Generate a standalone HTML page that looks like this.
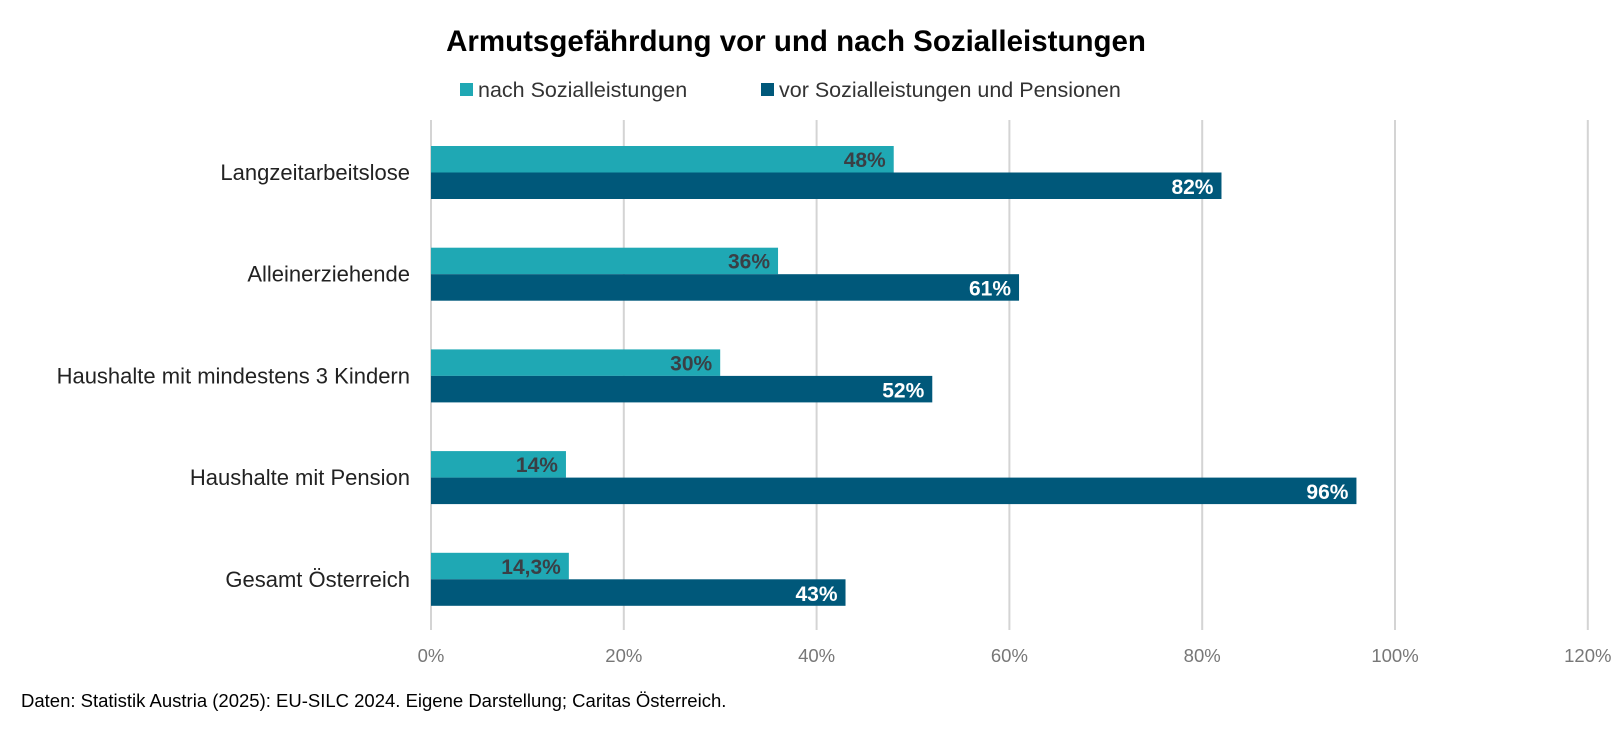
<!DOCTYPE html>
<html><head><meta charset="utf-8"><style>
body{margin:0;background:#fff;width:1621px;height:734px;overflow:hidden;font-family:"Liberation Sans",sans-serif}
</style></head><body>
<svg id="c" width="1621" height="734" xmlns="http://www.w3.org/2000/svg">
<text x="796" y="51" text-anchor="middle" font-size="29.5" font-weight="bold" fill="#000">Armutsgefährdung vor und nach Sozialleistungen</text>
<g>
<rect x="460" y="83" width="13" height="13" fill="#1fa8b4"/>
<text x="478" y="97" font-size="21.5" fill="#333">nach Sozialleistungen</text>
<rect x="761" y="83" width="13" height="13" fill="#00587a"/>
<text x="779" y="97" font-size="21.5" fill="#333">vor Sozialleistungen und Pensionen</text>
</g>
<g id="grid"></g><g id="bars"></g>
<text x="21" y="707" font-size="18.5" fill="#000">Daten: Statistik Austria (2025): EU-SILC 2024. Eigene Darstellung; Caritas Österreich.</text>
</svg>
<script>
const categories=["Langzeitarbeitslose","Alleinerziehende","Haushalte mit mindestens 3 Kindern","Haushalte mit Pension","Gesamt Österreich"];
const nachValues=[48,36,30,14,14.3];
const vorValues=[82,61,52,96,43];
const nachLabels=["48%","36%","30%","14%","14,3%"];
const vorLabels=["82%","61%","52%","96%","43%"];
const ticks=[0,20,40,60,80,100,120];
const tickLabels=["0%","20%","40%","60%","80%","100%","120%"];
const NS="http://www.w3.org/2000/svg";
const x=v=>431+v*9.64;
const band=i=>120+i*101.7;
function mk(t,a,p){const e=document.createElementNS(NS,t);for(const k in a)e.setAttribute(k,a[k]);p.appendChild(e);return e;}
const g=document.getElementById('grid'),b=document.getElementById('bars');
ticks.forEach((t,i)=>{
 const l=mk('line',{x1:x(t),x2:x(t),y1:120,y2:630,stroke:'#d4d4d4','stroke-width':2},g);
 
 
 const tx=mk('text',{x:x(t),y:662,'text-anchor':'middle','font-size':18.5,fill:'#777'},g);
 tx.textContent=tickLabels[i];
 
 
});
categories.forEach((c,i)=>{
 const top=band(i)+26;
 const cl=mk('text',{x:410,y:top+34,'text-anchor':'end','font-size':22,fill:'#222'},b);
 cl.textContent=c;
 
 
 const r1=mk('rect',{x:x(0),y:top,width:x(nachValues[i])-x(0),height:26.5,fill:'#1fa8b4'},b);
 
 
 const r2=mk('rect',{x:x(0),y:top+26.5,width:x(vorValues[i])-x(0),height:26.5,fill:'#00587a'},b);
 
 
 const l1=mk('text',{x:x(nachValues[i])-8,y:top+21,'text-anchor':'end','font-size':21,'font-weight':'bold',fill:'#3a3f45'},b);
 l1.textContent=nachLabels[i];
 
 
 const l2=mk('text',{x:x(vorValues[i])-8,y:top+48,'text-anchor':'end','font-size':21,'font-weight':'bold',fill:'#fff'},b);
 l2.textContent=vorLabels[i];
 
 
});
</script>
</body></html>
